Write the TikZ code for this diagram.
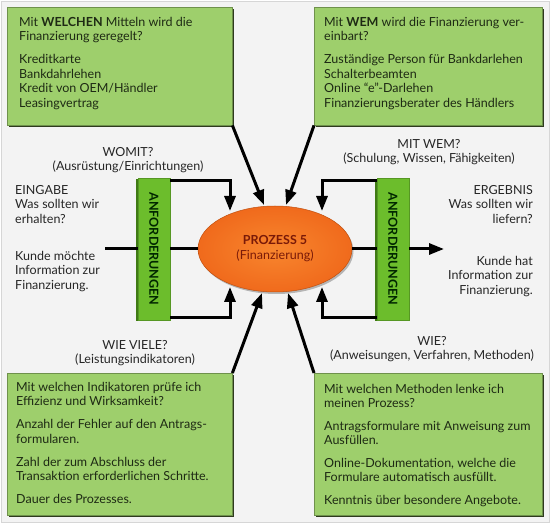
\documentclass[tikz,border=0pt]{standalone}
\usepackage{fontspec}
\setmainfont{Lato}
\usetikzlibrary{arrows.meta,shadows,shapes.geometric}
\definecolor{bg}{HTML}{F3F3F3}
\definecolor{bgline}{HTML}{D6D6D6}
\definecolor{boxgreen}{HTML}{9ECF6C}
\definecolor{boxshadow}{HTML}{2E3A1E}
\definecolor{bargreen}{HTML}{6CBD2C}
\definecolor{bardark}{HTML}{3F7A14}
\definecolor{txt}{HTML}{1E2A14}
\definecolor{orngin}{HTML}{F8862E}
\definecolor{orngout}{HTML}{F06A1C}
\definecolor{orngdark}{HTML}{C0500F}
\definecolor{redtxt}{HTML}{7A1A08}
\tikzset{
  gbox/.style={draw=boxgreen!70!black, line width=0.4pt, fill=boxgreen, inner sep=0pt,
    drop shadow={shadow xshift=2pt, shadow yshift=-2pt, fill=boxshadow, opacity=1}},
  btext/.style={align=left, inner sep=0pt, text=txt, anchor=north west,
    font=\fontsize{12.5}{14.5}\selectfont},
  side/.style={align=center, inner sep=0pt, text=black!85,
    font=\fontsize{12.5}{14.5}\selectfont},
  barbox/.style={fill=bargreen, draw=bargreen!80!black, line width=0.4pt, inner sep=0pt,
    minimum width=32pt, minimum height=142pt,
    drop shadow={shadow xshift=-2pt, shadow yshift=-1pt, fill=bardark, opacity=1}},
  bartext/.style={rotate=-90, inner sep=0pt, text=black!85!green, font=\fontsize{12.5}{14}\selectfont\bfseries},
  ln/.style={line width=3pt, black},
  arr/.style={line width=3pt, black, -{Triangle[length=15pt, width=11pt]}},
}
\begin{document}
\begin{tikzpicture}[x=1pt, y=-1pt, font=\fontsize{12}{14.5}\selectfont]
\useasboundingbox (0,0) rectangle (550,524);
\fill[bg, draw=bgline] (1,1) rectangle (549,522);

% boxes
\node[gbox, minimum width=225pt, minimum height=118pt, anchor=north west] (tl) at (7,7) {};
\node[gbox, minimum width=228pt, minimum height=118pt, anchor=north west] (tr) at (314,7) {};
\node[gbox, minimum width=225pt, minimum height=142pt, anchor=north west] (bl) at (7,373) {};
\node[gbox, minimum width=228pt, minimum height=142pt, anchor=north west] (br) at (314,373) {};

\node[btext] (tlt) at (19,17) {Mit \textbf{WELCHEN} Mitteln wird die\\Finanzierung geregelt?\\[8.5pt]Kreditkarte\\Bankdahrlehen\\Kredit von OEM/Händler\\Leasingvertrag};
\node[btext] (trt) at (324,17) {Mit \textbf{WEM} wird die Finanzierung ver-\\einbart?\\[8.5pt]Zuständige Person für Bankdarlehen\\Schalterbeamten\\Online “e”-Darlehen\\Finanzierungsberater des Händlers};
\node[btext] (blt) at (16,382) {Mit welchen Indikatoren prüfe ich\\Effizienz und Wirksamkeit?\\[8.5pt]Anzahl der Fehler auf den Antrags-\\formularen.\\[8.5pt]Zahl der zum Abschluss der\\Transaktion erforderlichen Schritte.\\[8.5pt]Dauer des Prozesses.};
\node[btext] (brt) at (324,384) {Mit welchen Methoden lenke ich\\meinen Prozess?\\[8pt]Antragsformulare mit Anweisung zum\\Ausfüllen.\\[8pt]Online-Dokumentation, welche die\\Formulare automatisch ausfüllt.\\[8pt]Kenntnis über besondere Angebote.};

% side labels
\node[side] (womit) at (128,160) {WOMIT?\\(Ausrüstung/Einrichtungen)};
\node[side] (mitwem) at (429,152) {MIT WEM?\\(Schulung, Wissen, Fähigkeiten)};
\node[side] (wieviele) at (135,353) {WIE VIELE?\\(Leistungsindikatoren)};
\node[side] (wie) at (432,349) {WIE?\\(Anweisungen, Verfahren, Methoden)};
\node[side, align=left, anchor=north west] (eing) at (15,185) {EINGABE\\Was sollten wir\\erhalten?};
\node[side, align=left, anchor=north west] (kin) at (15,251) {Kunde möchte\\Information zur\\Finanzierung.};
\node[side, align=right, anchor=north east] (erg) at (533,185) {ERGEBNIS\\Was sollten wir\\liefern?};
\node[side, align=right, anchor=north east] (kout) at (533,256) {Kunde hat\\Information zur\\Finanzierung.};

% bars
\node[barbox] (lbar) at (154,249) {};
\node[bartext] (lbart) at (lbar.center) {ANFORDERUNGEN};
\node[barbox] (rbar) at (393,249) {};
\node[bartext] (rbart) at (rbar.center) {ANFORDERUNGEN};

% process
\node[ellipse, minimum width=154pt, minimum height=86pt, inner color=orngin, outer color=orngout,
  draw=orngdark, line width=0.5pt, align=center, text=redtxt, inner sep=0pt,
  font=\fontsize{12.5}{15}\selectfont,
  drop shadow={shadow xshift=1.5pt, shadow yshift=-2pt, fill=black!45, opacity=0.6}] (ell) at (275,249)
  {\textbf{PROZESS 5}\\(Finanzierung)};

% coordinates
\coordinate (lin) at (105,249);
\coordinate (rout) at (444,249);
\coordinate (lt) at (230,211);
\coordinate (lb) at (230,287);
\coordinate (rt) at (322,211);
\coordinate (rb) at (322,287);
\coordinate (d1) at (264,205);
\coordinate (d2) at (286,205);
\coordinate (d3) at (262,293);
\coordinate (d4) at (288,293);

% connectors
\draw[ln] (lin) -- (lbar.west);
\draw[ln] (lbar.east) -- (ell.west);
\draw[ln] (ell.east) -- (rbar.west);
\draw[arr] (rbar.east) -- (rout);
\draw[arr] ([yshift=-3pt]lbar.north east) -| (lt);
\draw[arr] ([yshift=3pt]lbar.south east) -| (lb);
\draw[arr] ([yshift=-3pt]rbar.north west) -| (rt);
\draw[arr] ([yshift=3pt]rbar.south west) -| (rb);
\draw[arr] (tl.south east) -- (d1);
\draw[arr] (tr.south west) -- (d2);
\draw[arr] (bl.north east) -- (d3);
\draw[arr] (br.north west) -- (d4);
\end{tikzpicture}
\end{document}
